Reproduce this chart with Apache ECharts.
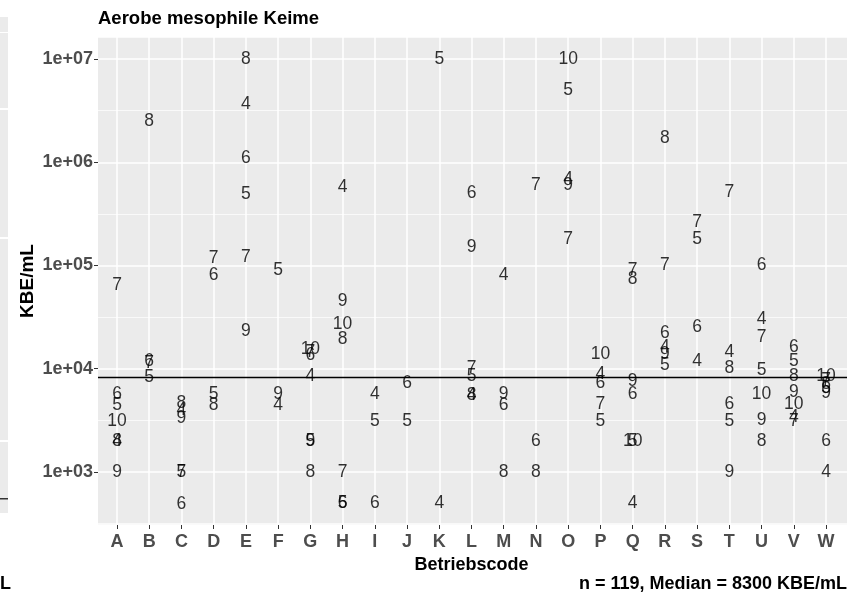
<!DOCTYPE html>
<html><head><meta charset="utf-8">
<script src="https://cdn.jsdelivr.net/npm/echarts@6/dist/echarts.min.js"></script>
<style>html,body{margin:0;padding:0;background:#fff}#c{width:866px;height:599px}</style>
</head><body><div id="c"></div>
<script>
// ---- data ----
const categories = ['A','B','C','D','E','F','G','H','I','J','K','L','M','N','O','P','Q','R','S','T','U','V','W'];
const sampleIds = [4, 5, 6, 7, 8, 9, 10];
//               A      B      C     D      E      F      G      H      I     J     K      L      M     N      O      P     Q     R      S      T      U      V      W
const probe4  = [2000,  null,  4000, null,  3.7e6, 4400,  8400,  5.7e5, 5600, null, 500,   5500,  8.0e4,null,  6.8e5, 8750, 500,  1.63e4,1.17e4,1.46e4,3.05e4,3350,  1000];
const probe5  = [4400,  8200,  1000, 5600,  4.9e5, 9.1e4, 2000,  500,   3100, 3100, 1.0e7, 8400,  null, null,  5.0e6, 3100, 2000, 1.09e4,1.8e5, 3100,  9600,  1.19e4,6500];
const probe6  = [5600,  1.19e4,490,  8.1e4, 1.1e6, null,  1.34e4,500,   500,  7200, null,  5.0e5, 4400, 2000,  null,  7200, 5600, 2.23e4,2.55e4,4500,  1.0e5, 1.63e4,2000];
const probe7  = [6.4e4, 1.12e4,1000, 1.19e5,1.2e5, null,  1.43e4,1000,  null, null, null,  1.02e4,null, 6.0e5, 1.8e5, 4500, 9.1e4,1.0e5, 2.65e5,5.1e5, 2.0e4, 3100,  7650];
const probe8  = [2000,  2.5e6, 4600, 4400,  1.0e7, null,  1000,  1.95e4,null, null, null,  5500,  1000, 1000,  null,  null, 7.3e4,1.73e6,null,  1.0e4, 2000,  8400,  7000];
const probe9  = [1000,  null,  3300, null,  2.3e4, 5600,  2000,  4.5e4, null, null, null,  1.5e5, 5700, null,  6.0e5, null, 7500, 1.37e4,null,  1000,  3200,  5900,  5800];
const probe10 = [3100,  null,  null, null,  null,  null,  1.56e4,2.7e4, null, null, null,  null,  null, null,  1.0e7, 1.37e4,2000,null,  null,  null,  5700,  4500,  8400];
const medianValue = 8300;
const yMin = 305, yMax = 1.64e7;
const titleText = 'Aerobe mesophile Keime';
const captionText = 'n = 119, Median = 8300 KBE/mL';
const xName = 'Betriebscode', yName = 'KBE/mL';

// ---- build ----
const probes = [probe4, probe5, probe6, probe7, probe8, probe9, probe10];
const points = [];
probes.forEach((arr, k) => arr.forEach((v, i) => {
  if (v != null) points.push({ name: String(sampleIds[k]), value: [categories[i], v] });
}));
const FONT = "'Liberation Sans', Arial, sans-serif";
const log10 = Math.log10;
const chart = echarts.init(document.getElementById('c'), null, { renderer: 'canvas', width: 866, height: 599 });
const boldText = { fontFamily: FONT, fontWeight: 'bold', fontSize: 18, color: '#000' };
chart.setOption({
  animation: false,
  backgroundColor: '#fff',
  title: [
    { text: titleText, left: 98, top: 9, padding: 0, textStyle: Object.assign({}, boldText, { fontSize: 18.5 }) },
    { text: captionText, right: 19, top: 575, padding: 0, textStyle: boldText }
  ],
  grid: [
    { left: 98, right: 19, top: 37, bottom: 74, show: true, backgroundColor: '#EBEBEB', borderWidth: 0 },
    { left: 117, right: 40, top: 37, bottom: 74, show: false }
  ],
  xAxis: [
    { gridIndex: 0, type: 'value', min: 0, max: 1, show: false },
    { gridIndex: 1, type: 'category', data: categories, boundaryGap: false,
      axisLine: { show: false },
      axisTick: { show: true, length: 4, lineStyle: { color: '#333', width: 1 } },
      axisLabel: { interval: 0, margin: 8, color: '#4D4D4D', fontWeight: 'bold', fontSize: 18, fontFamily: FONT },
      splitLine: { show: true, lineStyle: { color: '#fff', width: 1.5 } },
      name: xName, nameLocation: 'middle', nameGap: 31, nameMoveOverlap: false, nameTextStyle: boldText }
  ],
  yAxis: [
    { gridIndex: 0, type: 'value', min: log10(yMin), max: log10(yMax),
      axisLine: { show: false },
      axisTick: { show: true, length: 4, lineStyle: { color: '#333', width: 1 } },
      axisLabel: { margin: 5, showMinLabel: false, showMaxLabel: false, color: '#4D4D4D', fontWeight: 'bold', fontSize: 18, fontFamily: FONT,
        formatter: v => '1e+' + String(Math.round(v)).padStart(2, '0') },
      splitLine: { show: true, lineStyle: { color: '#fff', width: 1.5 } },
      minorTick: { show: false, splitNumber: 2 },
      minorSplitLine: { show: true, lineStyle: { color: '#fff', width: 0.7 } },
      name: yName, nameLocation: 'middle', nameGap: 61, nameRotate: 90, nameMoveOverlap: false,
      nameTextStyle: Object.assign({}, boldText, { fontSize: 19 }) },
    { gridIndex: 1, type: 'log', logBase: 10, min: yMin, max: yMax, show: false, splitLine: { show: false } }
  ],
  series: [
    { type: 'line', xAxisIndex: 0, yAxisIndex: 0, data: [], silent: true,
      markLine: { silent: true, symbol: ['none', 'none'], label: { show: false },
        lineStyle: { color: '#000', width: 1.3, type: 'solid' },
        data: [{ yAxis: log10(medianValue) }] } },
    { type: 'scatter', xAxisIndex: 1, yAxisIndex: 1, symbolSize: 1,
      itemStyle: { color: 'rgba(0,0,0,0)' },
      label: { show: true, position: 'inside', formatter: p => p.name, fontSize: 17.5, color: '#000', fontFamily: FONT },
      labelLayout: { hideOverlap: false },
      data: points, z: 5 }
  ],
  graphic: [
    { type: 'rect', shape: { x: 0, y: 17, width: 8, height: 496 }, style: { fill: '#EBEBEB' }, silent: true },
    { type: 'rect', shape: { x: 0, y: 32, width: 8, height: 1 }, style: { fill: '#fff' }, silent: true },
    { type: 'rect', shape: { x: 0, y: 108, width: 8, height: 2 }, style: { fill: '#fff' }, silent: true },
    { type: 'rect', shape: { x: 0, y: 237, width: 8, height: 2 }, style: { fill: '#fff' }, silent: true },
    { type: 'rect', shape: { x: 0, y: 440, width: 8, height: 2 }, style: { fill: '#fff' }, silent: true },
    { type: 'rect', shape: { x: 0, y: 498, width: 8, height: 1.5 }, style: { fill: '#333' }, silent: true },
    { type: 'text', left: 0, top: 575, style: { text: 'L', font: "bold 18px 'Liberation Sans', Arial, sans-serif", fill: '#000' }, silent: true }
  ]
});
</script></body></html>
